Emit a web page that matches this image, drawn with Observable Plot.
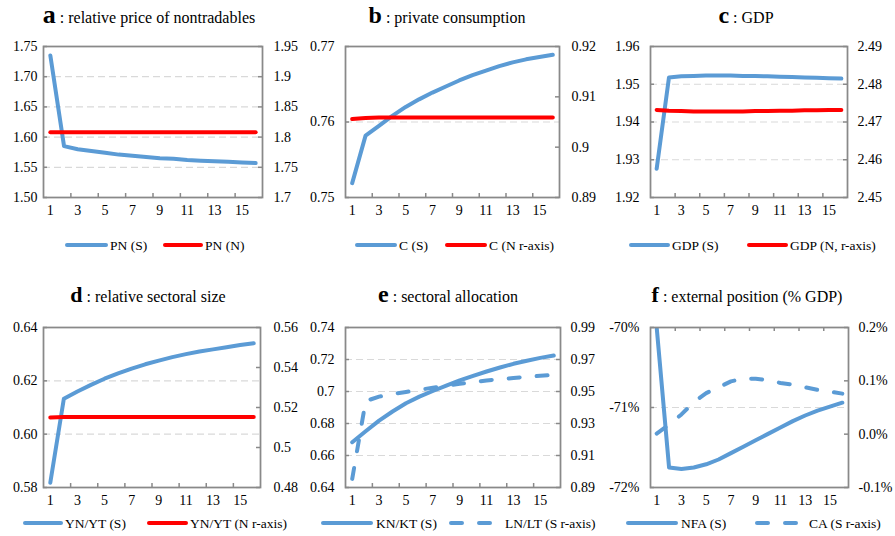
<!DOCTYPE html>
<html><head><meta charset="utf-8">
<script src="https://cdn.jsdelivr.net/npm/d3@7"></script>
<script src="https://cdn.jsdelivr.net/npm/@observablehq/plot@0.6"></script>
<style>
body{margin:0;background:#fff;}
#root{position:relative;width:895px;height:536px;overflow:hidden;font-family:"Liberation Serif","Times New Roman",serif;background:#fff;}
.panel{position:absolute;}
#overlay{position:absolute;left:0;top:0;pointer-events:none;}
</style></head><body><div id="root"></div>
<script>
// ---------- data ----------
const periods = [1,2,3,4,5,6,7,8,9,10,11,12,13,14,15,16];
const xTickLabels = [1,3,5,7,9,11,13,15];
const xTickMarks = [2.5,4.5,6.5,8.5,10.5,12.5,14.5];

// a : relative price of nontradables
const pnS = [1.735,1.585,1.580,1.577,1.574,1.571,1.569,1.567,1.565,1.564,1.562,1.561,1.560,1.559,1.558,1.557];
const pnN = [1.808,1.808,1.808,1.808,1.808,1.808,1.808,1.808,1.808,1.808,1.808,1.808,1.808,1.808,1.808,1.808];
const aTicksL = [1.50,1.55,1.60,1.65,1.70,1.75];
const aLabelsL = ["1.50","1.55","1.60","1.65","1.70","1.75"];
const aTicksR = [1.7,1.75,1.8,1.85,1.9,1.95];
const aLabelsR = ["1.7","1.75","1.8","1.85","1.9","1.95"];

// b : private consumption
const cS = [0.7519,0.7582,0.7595,0.7608,0.7620,0.7630,0.7639,0.7647,0.7655,0.7662,0.7668,0.7674,0.7679,0.7683,0.7686,0.7689];
const cN = [0.9056,0.9058,0.9059,0.9059,0.9059,0.9059,0.9059,0.9059,0.9059,0.9059,0.9059,0.9059,0.9059,0.9059,0.9059,0.9059];
const bTicksL = [0.75,0.76,0.77];
const bLabelsL = ["0.75","0.76","0.77"];
const bTicksR = [0.89,0.90,0.91,0.92];
const bLabelsR = ["0.89","0.9","0.91","0.92"];

// c : GDP
const gdpS = [1.9276,1.9518,1.9521,1.9522,1.9523,1.9523,1.9523,1.9522,1.9522,1.9521,1.9520,1.9519,1.9518,1.9517,1.9516,1.9515];
const gdpN = [2.4732,2.4730,2.4729,2.4728,2.4728,2.4728,2.4728,2.4728,2.4729,2.4729,2.4730,2.4730,2.4731,2.4731,2.4732,2.4732];
const cTicksL = [1.92,1.93,1.94,1.95,1.96];
const cLabelsL = ["1.92","1.93","1.94","1.95","1.96"];
const cTicksR = [2.45,2.46,2.47,2.48,2.49];
const cLabelsR = ["2.45","2.46","2.47","2.48","2.49"];

// d : relative sectoral size
const ynS = [0.5818,0.6133,0.6160,0.6185,0.6208,0.6228,0.6246,0.6262,0.6276,0.6289,0.6300,0.6310,0.6318,0.6326,0.6334,0.6341];
const ynN = [0.5150,0.5152,0.5153,0.5153,0.5153,0.5153,0.5153,0.5153,0.5153,0.5153,0.5153,0.5153,0.5152,0.5152,0.5152,0.5152];
const dTicksL = [0.58,0.60,0.62,0.64];
const dLabelsL = ["0.58","0.60","0.62","0.64"];
const dTicksR = [0.48,0.50,0.52,0.54,0.56];
const dLabelsR = ["0.48","0.5","0.52","0.54","0.56"];

// e : sectoral allocation
const knS = [0.6683,0.6752,0.6818,0.6875,0.6927,0.6968,0.7003,0.7037,0.7069,0.7098,0.7125,0.7150,0.7173,0.7192,0.7210,0.7225];
const lnS = [0.8954,0.9440,0.9468,0.9484,0.9497,0.9511,0.9523,0.9536,0.9548,0.9559,0.9569,0.9577,0.9584,0.9592,0.9598,0.9604];
const eTicksL = [0.64,0.66,0.68,0.70,0.72,0.74];
const eLabelsL = ["0.64","0.66","0.68","0.7","0.72","0.74"];
const eTicksR = [0.89,0.91,0.93,0.95,0.97,0.99];
const eLabelsR = ["0.89","0.91","0.93","0.95","0.97","0.99"];

// f : external position (% GDP), in percent
const nfaS = [-70.0,-71.75,-71.77,-71.75,-71.71,-71.65,-71.57,-71.49,-71.41,-71.33,-71.25,-71.17,-71.10,-71.04,-70.99,-70.94];
const caS = [0.001,0.018,0.037,0.060,0.077,0.088,0.099,0.104,0.104,0.101,0.096,0.093,0.088,0.083,0.080,0.076];
const fTicksL = [-72,-71,-70];
const fLabelsL = ["-72%","-71%","-70%"];
const fTicksR = [-0.1,0.0,0.1,0.2];
const fLabelsR = ["-0.1%","0.0%","0.1%","0.2%"];

// ---------- styling / layout ----------
const BLUE = "#5b9bd5", RED = "#ff0000", FRAME = "#898989", GRID = "#d9d9d9";
const DASH = "11,17";
const FONT = '"Liberation Serif","Times New Roman",serif';

const panels = [
  {letter:"a", size:26, title:"relative price of nontradables", cx:149, ty:23,
   left:43, right:262, top:46, bottom:197, gapL:6, gapR:11, xTop:false,
   tL:aTicksL, lL:aLabelsL, tR:aTicksR, lR:aLabelsR,
   series:[{v:pnS, r:false, c:BLUE, d:null},{v:pnN, r:true, c:RED, d:null}],
   legend:[{x1:65,x2:108,tx:110,text:"PN (S)",c:BLUE,d:null},{x1:163,x2:203,tx:205,text:"PN (N)",c:RED,d:null}], ly:245},
  {letter:"b", size:24, title:"private consumption", cx:447, ty:23,
   left:345, right:559, top:46, bottom:197, gapL:11, gapR:12, xTop:false,
   tL:bTicksL, lL:bLabelsL, tR:bTicksR, lR:bLabelsR,
   series:[{v:cS, r:false, c:BLUE, d:null},{v:cN, r:true, c:RED, d:null}],
   legend:[{x1:355,x2:397,tx:399,text:"C (S)",c:BLUE,d:null},{x1:445,x2:487,tx:489,text:"C (N r-axis)",c:RED,d:null}], ly:245},
  {letter:"c", size:24, title:"GDP", cx:746, ty:23,
   left:650, right:847, top:46, bottom:197, gapL:11, gapR:10, xTop:false,
   tL:cTicksL, lL:cLabelsL, tR:cTicksR, lR:cLabelsR,
   series:[{v:gdpS, r:false, c:BLUE, d:null},{v:gdpN, r:true, c:RED, d:null}],
   legend:[{x1:629,x2:670,tx:672,text:"GDP (S)",c:BLUE,d:null},{x1:747,x2:788,tx:790,text:"GDP (N, r-axis)",c:RED,d:null}], ly:245},
  {letter:"d", size:22, title:"relative sectoral size", cx:148, ty:302,
   left:43, right:260, top:327, bottom:487, gapL:6, gapR:13, xTop:false,
   tL:dTicksL, lL:dLabelsL, tR:dTicksR, lR:dLabelsR,
   series:[{v:ynS, r:false, c:BLUE, d:null},{v:ynN, r:true, c:RED, d:null}],
   legend:[{x1:23,x2:63,tx:65,text:"YN/YT (S)",c:BLUE,d:null},{x1:147,x2:188,tx:190,text:"YN/YT (N r-axis)",c:RED,d:null}], ly:523},
  {letter:"e", size:24, title:"sectoral allocation", cx:448, ty:302,
   left:345, right:560, top:327, bottom:487, gapL:11, gapR:10, xTop:false,
   tL:eTicksL, lL:eLabelsL, tR:eTicksR, lR:eLabelsR,
   series:[{v:knS, r:false, c:BLUE, d:null},{v:lnS, r:true, c:BLUE, d:DASH}],
   legend:[{x1:321,x2:373,tx:376,text:"KN/KT (S)",c:BLUE,d:null},{x1:449,x2:500,tx:505,text:"LN/LT (S r-axis)",c:BLUE,d:DASH}], ly:523},
  {letter:"f", size:22, title:"external position (% GDP)", cx:747, ty:302,
   left:650, right:848, top:327, bottom:487, gapL:11, gapR:10, xTop:true,
   tL:fTicksL, lL:fLabelsL, tR:fTicksR, lR:fLabelsR,
   series:[{v:nfaS, r:false, c:BLUE, d:null},{v:caS, r:true, c:BLUE, d:DASH}],
   legend:[{x1:626,x2:678,tx:681,text:"NFA (S)",c:BLUE,d:null},{x1:755,x2:806,tx:809,text:"CA (S r-axis)",c:BLUE,d:DASH}], ly:523}
];

const root = document.getElementById("root");
const mL = 42, mR = 45, mT = 8, mB = 28;

panels.forEach(p => {
  const pw = p.right - p.left, ph = p.bottom - p.top;
  const yL = [p.tL[0], p.tL[p.tL.length-1]];
  const yR = [p.tR[0], p.tR[p.tR.length-1]];
  const toL = d3.scaleLinear().domain(yR).range(yL);
  const grid = p.tL.slice(1, -1);
  const rTicks = p.tR.map(toL);
  const labL = new Map(p.tL.map((t,i)=>[t, p.lL[i]]));
  const labR = new Map(rTicks.map((t,i)=>[t, p.lR[i]]));
  const marks = [
    Plot.ruleY(grid, {y: d=>d, stroke: GRID, strokeWidth: 1.2, strokeDasharray: "7,4"})
  ];
  p.series.forEach(s => {
    const data = periods.map((t,i)=>({t, v: s.r ? toL(s.v[i]) : s.v[i]}));
    marks.push(Plot.line(data, {x:"t", y:"v", stroke:s.c, strokeWidth:4, strokeDasharray:s.d,
      strokeLinecap:"round", strokeLinejoin:"round", clip:true}));
  });
  marks.push(Plot.frame({stroke: FRAME, strokeWidth: 1.75}));
  marks.push(Plot.tickY(p.tL, {y:d=>d, stroke:FRAME, strokeWidth:1.5, insetRight: pw-4}));
  marks.push(Plot.tickY(rTicks, {y:d=>d, stroke:FRAME, strokeWidth:1.5, insetLeft: pw-4}));
  marks.push(Plot.tickX(xTickMarks, {x:d=>d, stroke:FRAME, strokeWidth:1.5,
     insetTop: p.xTop ? 0 : ph-4, insetBottom: p.xTop ? ph-4 : 0}));
  marks.push(Plot.axisY(p.tL, {anchor:"left", label:null, tickSize:0, tickPadding:p.gapL, tickFormat:d=>labL.get(d), fontSize:14, fontFamily:FONT, fill:"#000"}));
  marks.push(Plot.axisY(rTicks, {anchor:"right", label:null, tickSize:0, tickPadding:p.gapR, tickFormat:d=>labR.get(d), fontSize:14, fontFamily:FONT, fill:"#000"}));
  marks.push(Plot.axisX(xTickLabels, {anchor:"bottom", label:null, tickSize:0, tickPadding:8, fontSize:14, fontFamily:FONT, fill:"#000"}));

  const chart = Plot.plot({
    width: pw + mL + mR, height: ph + mT + mB,
    marginLeft: mL, marginRight: mR, marginTop: mT, marginBottom: mB,
    x: {type:"linear", domain:[0.5, 16.5], label:null},
    y: {type:"linear", domain: yL, label:null},
    style: {fontFamily: FONT, fontSize:"14px", color:"#000", background:"transparent", overflow:"visible"},
    marks
  });
  chart.classList.add("panel");
  chart.style.left = (p.left - mL) + "px";
  chart.style.top = (p.top - mT) + "px";
  root.appendChild(chart);
});

// titles and legends
const NS = "http://www.w3.org/2000/svg";
const ov = document.createElementNS(NS, "svg");
ov.setAttribute("id","overlay"); ov.setAttribute("width",895); ov.setAttribute("height",536);
ov.setAttribute("font-family", FONT);
function el(tag, attrs, parent){ const e=document.createElementNS(NS, tag); for(const k in attrs) e.setAttribute(k, attrs[k]); (parent||ov).appendChild(e); return e; }
panels.forEach(p => {
  const t = el("text", {x:p.cx, y:p.ty, "text-anchor":"middle", fill:"#000"});
  const t1 = el("tspan", {"font-weight":"bold", "font-size":p.size}, t); t1.textContent = p.letter;
  const t2 = el("tspan", {"font-size":16}, t); t2.textContent = " : " + p.title;
  p.legend.forEach(l => {
    const ln = el("line", {x1:l.x1+2, x2:l.x2-2, y1:p.ly, y2:p.ly, stroke:l.c, "stroke-width":4, "stroke-linecap":"round"});
    if (l.d) ln.setAttribute("stroke-dasharray", l.d);
    const tx = el("text", {x:l.tx, y:p.ly+4.5, "font-size":13.5, fill:"#000"}); tx.textContent = l.text;
  });
});
root.appendChild(ov);
</script></body></html>
